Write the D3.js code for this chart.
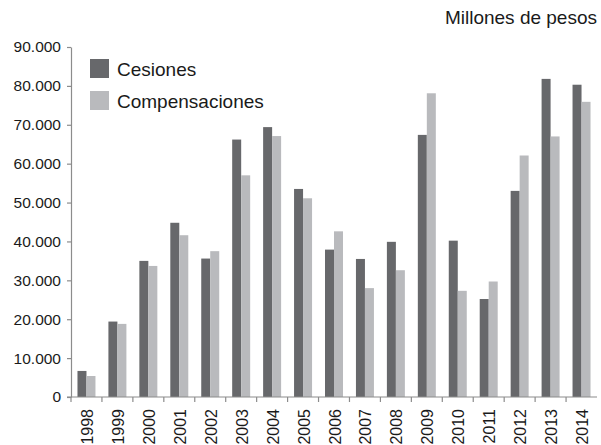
<!DOCTYPE html>
<html>
<head>
<meta charset="utf-8">
<script src="https://cdn.jsdelivr.net/npm/d3@7"></script>
<style>
  body { margin: 0; background: #fff; }
  text { font-family: "Liberation Sans", Arial, sans-serif; fill: #1a1a1a; }
</style>
</head>
<body>
<div id="chart"></div>
<script>
// data, millones de pesos
const years = ["1998", "1999", "2000", "2001", "2002", "2003", "2004", "2005", "2006",
               "2007", "2008", "2009", "2010", "2011", "2012", "2013", "2014"];
const cesiones = [6700, 19400, 35000, 44800, 35600, 66200, 69400, 53500, 37900,
                  35500, 39900, 67400, 40200, 25200, 53000, 81800, 80300];
const compensaciones = [5400, 18800, 33700, 41600, 37500, 57000, 67100, 51100, 42600,
                        28000, 32600, 78100, 27300, 29700, 62100, 67000, 75900];
const yTicks = [0, 10000, 20000, 30000, 40000, 50000, 60000, 70000, 80000, 90000];
const seriesNames = ["Cesiones", "Compensaciones"];

const width = 601, height = 445;
const margin = {top: 47, right: 4, bottom: 48, left: 71};
const colors = ["#67686b", "#b9babd"];
const axisColor = "#8c8c8c";

const svg = d3.select("#chart").append("svg")
    .attr("width", width)
    .attr("height", height);

const x = d3.scaleBand()
    .domain(years)
    .range([margin.left, width - margin.right]);

const x1 = d3.scaleBand()
    .domain(seriesNames)
    .range([0, x.bandwidth()])
    .paddingInner(0)
    .paddingOuter(0.72);

const y = d3.scaleLinear()
    .domain([0, 90000])
    .range([height - margin.bottom, margin.top]);

const fmt = d => d === 0 ? "0" : d3.format(",")(d).replace(/,/g, ".");

// bars
const series = [cesiones, compensaciones];
series.forEach((vals, s) => {
    svg.append("g").selectAll("rect")
        .data(vals)
        .join("rect")
        .attr("x", (d, i) => x(years[i]) + x1(seriesNames[s]))
        .attr("width", x1.bandwidth())
        .attr("y", d => y(d))
        .attr("height", d => y(0) - y(d))
        .attr("fill", colors[s]);
});

// y axis
const yAxis = svg.append("g")
    .attr("transform", `translate(${margin.left},0)`)
    .call(d3.axisLeft(y).tickValues(yTicks).tickFormat(fmt).tickSize(4).tickSizeOuter(0));
yAxis.select(".domain").attr("stroke", axisColor).attr("stroke-width", 1.2);
yAxis.selectAll(".tick line").attr("stroke", axisColor).attr("stroke-width", 1.2);
yAxis.selectAll("text")
    .attr("x", -10)
    .style("font-size", "15.5px")
    .attr("fill", "#1a1a1a");

// x axis, ticks sit between the bands
const xAxis = svg.append("g")
    .attr("transform", `translate(0,${y(0)})`);
xAxis.append("line")
    .attr("x1", margin.left - 4).attr("x2", width - margin.right)
    .attr("stroke", axisColor).attr("stroke-width", 1.2);
xAxis.selectAll(".xtick")
    .data(years)
    .join("line")
    .attr("class", "xtick")
    .attr("x1", d => x(d)).attr("x2", d => x(d))
    .attr("y1", 0).attr("y2", 5)
    .attr("stroke", axisColor).attr("stroke-width", 1.2);
xAxis.selectAll(".xlabel")
    .data(years)
    .join("text")
    .attr("class", "xlabel")
    .attr("transform", d => `translate(${x(d) + x.bandwidth() / 2 + 6.5},12) rotate(-90)`)
    .attr("text-anchor", "end")
    .style("font-size", "16px")
    .text(d => d);

// unit label
svg.append("text")
    .attr("x", 597)
    .attr("y", 24)
    .attr("text-anchor", "end")
    .style("font-size", "19px")
    .text("Millones de pesos");

// legend
const legend = svg.append("g");
seriesNames.forEach((name, i) => {
    legend.append("rect")
        .attr("x", 90).attr("y", 59 + i * 32)
        .attr("width", 19).attr("height", 19)
        .attr("fill", colors[i]);
    legend.append("text")
        .attr("x", 117).attr("y", 75.5 + i * 32)
        .style("font-size", "19px")
        .text(name);
});
</script>
</body>
</html>
